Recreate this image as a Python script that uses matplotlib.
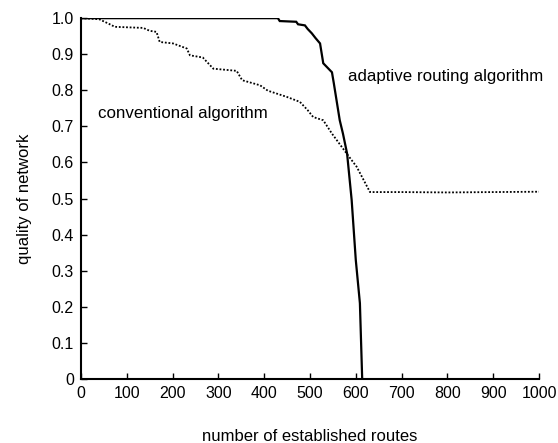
import matplotlib
matplotlib.use("Agg")
import matplotlib.pyplot as plt

plt.rcParams['font.family'] = ['Liberation Sans', 'DejaVu Sans']

# adaptive routing algorithm (solid)
adaptive_x = [0, 430, 434, 470, 474, 489, 495, 504, 512, 522, 529, 548, 552,
              565, 572, 581, 591, 600, 609, 614]
adaptive_y = [1.0, 1.0, 0.992, 0.99, 0.983, 0.98, 0.97, 0.958, 0.945, 0.93,
              0.875, 0.85, 0.82, 0.717, 0.68, 0.625, 0.496, 0.33, 0.21, 0.0]

# conventional algorithm (dotted)
conv_x = [0, 40, 60, 74, 136, 150, 165, 172, 201, 231, 238, 266, 289, 340,
          352, 391, 408, 449, 478, 495, 507, 529, 548, 580, 602, 631, 700,
          800, 900, 1000]
conv_y = [1.0, 0.997, 0.985, 0.976, 0.973, 0.965, 0.962, 0.934, 0.93, 0.916,
          0.897, 0.891, 0.86, 0.854, 0.828, 0.814, 0.799, 0.782, 0.768, 0.745,
          0.726, 0.717, 0.68, 0.625, 0.588, 0.518, 0.518, 0.517, 0.518, 0.519]

x_ticks = list(range(0, 1001, 100))
y_ticks = [0, 0.1, 0.2, 0.3, 0.4, 0.5, 0.6, 0.7, 0.8, 0.9, 1.0]
y_labels = ["0", "0.1", "0.2", "0.3", "0.4", "0.5", "0.6", "0.7", "0.8", "0.9", "1.0"]

fig = plt.figure(figsize=(5.58, 4.43), dpi=100)
ax = fig.add_axes([0.145, 0.1445, 0.821, 0.8145])

ax.plot(adaptive_x, adaptive_y, color='black', lw=1.6, solid_joinstyle='miter')
ax.plot(conv_x, conv_y, color='black', lw=1.3, linestyle=(0, (1, 1)))

ax.text(583, 0.839, "adaptive routing algorithm", fontsize=12.2, va='center', ha='left')
ax.text(37, 0.737, "conventional algorithm", fontsize=12.2, va='center', ha='left')

ax.set_xlim(0, 1000)
ax.set_ylim(0, 1.0)
ax.set_xticks(x_ticks)
ax.set_yticks(y_ticks)
ax.set_yticklabels(y_labels)
ax.tick_params(direction='in', length=4, width=1, labelsize=11.5, pad=5)
ax.spines['top'].set_visible(False)
ax.spines['right'].set_visible(False)
ax.spines['left'].set_linewidth(1.5)
ax.spines['bottom'].set_linewidth(1.5)

ax.set_xlabel("number of established routes", fontsize=12, labelpad=20)
ax.set_ylabel("quality of network", fontsize=12, labelpad=14)

fig.savefig("out.png", dpi=100)
